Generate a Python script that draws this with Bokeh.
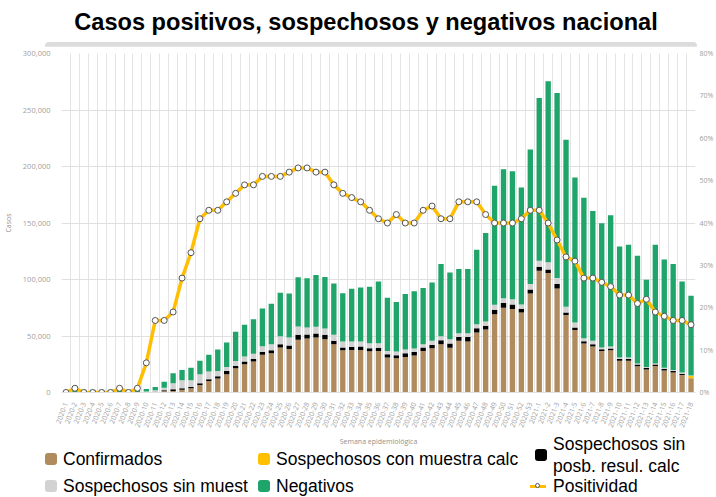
import numpy as np
from bokeh.plotting import figure
from bokeh.models import (ColumnDataSource, Range1d, LinearAxis, FixedTicker,
                          NumeralTickFormatter, Div)
from bokeh.layouts import column
from bokeh.embed import file_html
from bokeh.resources import INLINE

# ---------------- data ----------------
semanas = [f"2020-{i}" for i in range(1, 54)] + [f"2021-{i}" for i in range(1, 19)]

confirmados = [0, 0, 0, 0, 0, 0, 0, 0, 0, 100, 300, 1000, 1300, 2500, 3700, 6650, 10200, 12300,
               16100, 21400, 25000, 27400, 33300, 34700, 39800, 38600, 46600, 47800, 48600, 47200,
               42700, 37400, 37700, 37700, 36500, 36700, 30900, 30300, 31500, 32700, 36800, 39200,
               42700, 39500, 45700, 45100, 53100, 55700, 69300, 74900, 73800, 70800, 87700, 107800,
               105700, 92100, 68500, 55200, 43300, 40700, 36800, 37400, 28200, 28200, 23200, 20300,
               23500, 19400, 17600, 15500, 12600]
sosp_con_muestra_calc = [0] * 70 + [2000]
sosp_sin_posb_resul = [0, 0, 0, 0, 0, 0, 0, 0, 0, 100, 300, 1000, 1500, 1200, 1200, 1450, 1500, 2000,
                       3000, 2100, 2400, 2300, 2600, 2700, 2900, 3000, 4400, 3500, 3600, 3800,
                       3000, 2400, 2700, 3000, 2700, 3000, 3000, 2700, 3200, 3200, 3000, 2900,
                       3600, 3800, 3500, 4100, 3800, 3300, 3900, 4200, 4100, 3300, 3500, 3500,
                       3200, 3900, 2300, 2300, 2100, 2000, 1500, 1500, 1500, 1500, 1500, 1400,
                       1200, 1400, 1500, 1200, 0]
sosp_sin_muestra = [0, 200, 200, 200, 200, 200, 200, 200, 200, 600, 1400, 2300, 5300, 7100, 5900, 8000,
                    6800, 4800, 3500, 4400, 4400, 4700, 5100, 5300, 7100, 7000, 7400, 6200, 5900,
                    5600, 5300, 5300, 4700, 4400, 4400, 3800, 2900, 3200, 3300, 3000, 2900, 3600,
                    3500, 3900, 3300, 3300, 3600, 3800, 4400, 4400, 4700, 3800, 4800, 5300, 6300,
                    5300, 5000, 4400, 2700, 3000, 1500, 1800, 1200, 1200, 900, 900, 900, 1200,
                    900, 900, 400]
negativos = [800, 2300, 2300, 2300, 2300, 2300, 2300, 2300, 2300, 2300, 2900, 5300, 8900, 9200, 11200,
             11900, 14800, 18900, 21600, 25800, 28100, 30500, 33400, 35800, 38400, 39000, 43500,
             43500, 45800, 45600, 45500, 42800, 46700, 47900, 50000, 54800, 47000, 43800, 49100,
             50800, 49700, 51700, 63900, 59100, 56800, 56800, 65900, 78400, 105300, 114100,
             113300, 103500, 119100, 144000, 160200, 163700, 147900, 128400, 124200, 115000,
             110000, 116100, 98200, 99900, 95500, 77200, 105200, 95800, 93700, 80700, 70600]
positividad = [0, 1, 0, 0, 0, 0, 1, 0, 1, 7, 17, 17, 19, 27, 33, 41, 43, 43, 45, 47, 49, 49, 51, 51,
               51, 52, 53, 53, 52, 52, 49, 47, 46, 45, 43, 41, 40, 42, 40, 40, 43, 44, 41, 41, 45,
               45, 45, 42, 40, 40, 40, 41, 43, 43, 40, 36, 32, 31, 27, 27, 26, 25, 23, 23, 21, 22,
               19, 18, 17, 17, 16]

y_ticks = [0, 50000, 100000, 150000, 200000, 250000, 300000]
pct_ticks = [0, 0.1, 0.2, 0.3, 0.4, 0.5, 0.6, 0.7, 0.8]

titulo = "Casos positivos, sospechosos y negativos nacional"
series_names = ["Confirmados", "Sospechosos con muestra calc", "Sospechosos sin<br>posb. resul. calc",
                "Sospechosos sin muest", "Negativos", "Positividad"]
colors = ["#B08B5E", "#FFC000", "#000000", "#D2D2D2", "#1FA469"]
line_color = "#FFBE00"

n = len(semanas)
xs = list(range(n))

src = ColumnDataSource(dict(
    x=xs,
    conf=confirmados, ymc=sosp_con_muestra_calc, blk=sosp_sin_posb_resul,
    gry=sosp_sin_muestra, neg=negativos,
    pos=[v / 100 for v in positividad],
))
stack = ["conf", "ymc", "blk", "gry", "neg"]

W = 716
# ---------------- main chart ----------------
p = figure(width=W, height=402, x_range=Range1d(-0.5, n - 0.5), y_range=Range1d(0, 300000),
           output_backend="svg", toolbar_location=None,
           min_border_left=60, min_border_right=0, min_border_top=7, min_border_bottom=55)
p.outline_line_color = None
p.extra_y_ranges = {"pct": Range1d(0, 0.8)}

rs = p.vbar_stack(stack, x="x", width=0.6, color=colors, line_width=0, source=src)
ln = p.line("x", "pos", source=src, y_range_name="pct", line_color=line_color, line_width=3.5)
pts = p.scatter("x", "pos", source=src, y_range_name="pct", size=6, fill_color="white",
                line_color="#555555", line_width=1)

tick_font = "Open Sans"
tick_color = "#A0A0A0"

xa = p.xaxis[0]
xa.ticker = FixedTicker(ticks=xs)
xa.major_label_overrides = {i: s for i, s in enumerate(semanas)}
xa.major_label_orientation = 1.2
xa.major_label_text_font = tick_font
xa.major_label_text_font_size = "7px"
xa.major_label_text_color = tick_color
xa.major_tick_line_color = None
xa.minor_tick_line_color = None
xa.axis_line_color = "#E0E0E0"
xa.major_label_standoff = 4
xa.axis_label = "Semana epidemiológica"
xa.axis_label_text_font = tick_font
xa.axis_label_text_font_size = "7px"
xa.axis_label_text_font_style = "normal"
xa.axis_label_text_color = "#909090"
xa.axis_label_standoff = 5

ya = p.yaxis[0]
ya.ticker = FixedTicker(ticks=y_ticks)
ya.formatter = NumeralTickFormatter(format="0,0")
ya.major_label_text_font = tick_font
ya.major_label_text_font_size = "7.5px"
ya.major_label_text_color = tick_color
ya.major_tick_line_color = None
ya.minor_tick_line_color = None
ya.axis_line_color = None
ya.major_label_standoff = 5
ya.axis_label = "Casos"
ya.axis_label_text_font = tick_font
ya.axis_label_text_font_size = "7px"
ya.axis_label_text_font_style = "normal"
ya.axis_label_text_color = "#909090"
ya.axis_label_standoff = 7

ra = LinearAxis(y_range_name="pct", ticker=FixedTicker(ticks=pct_ticks),
                formatter=NumeralTickFormatter(format="0%"))
ra.major_label_text_font = tick_font
ra.major_label_text_font_size = "7px"
ra.major_label_text_color = tick_color
ra.major_tick_line_color = None
ra.major_tick_out = 0
ra.minor_tick_line_color = None
ra.minor_tick_out = 0
ra.axis_line_color = None
ra.major_label_standoff = 4
p.add_layout(ra, "right")

p.xgrid.ticker = FixedTicker(ticks=[i - 0.5 for i in range(n + 1)])
p.xgrid.grid_line_color = "#E4E4E4"
p.ygrid.ticker = FixedTicker(ticks=y_ticks)
p.ygrid.grid_line_color = "#E0E0E0"

# ---------------- title + decorative bar ----------------
title_div = Div(
    text=(f'<div style="height:38px;box-sizing:border-box;padding-top:7px;line-height:30px;'
          f'width:{W}px;padding-left:16px;text-align:center;font-family:\'Liberation Sans\';'
          f'font-weight:bold;font-size:23.6px;color:#000;white-space:nowrap">{titulo}</div>'),
    width=W, height=38, margin=(0, 0, 0, 0))
bar_div = Div(text='<div style="margin-left:45px;margin-top:-1px;width:652px;height:8px;'
                   'background:#DCDCDC;border-radius:4px"></div>',
              width=W, height=8, margin=(0, 0, 0, 0))

# ---------------- legend (HTML, below the axis) ----------------
LH = 66
def sw(c):
    return (f'<span style="display:inline-block;width:12px;height:12px;border-radius:3px;'
            f'background:{c};margin-right:6px;flex:none"></span>')
pos_sw = ('<span style="position:relative;display:inline-block;width:16px;height:12px;'
          'margin-right:7px;flex:none"><span style="position:absolute;left:0;top:4.5px;width:16px;'
          f'height:3px;background:{line_color}"></span><span style="position:absolute;left:4.5px;'
          'top:2.5px;width:5px;height:5px;border:1px solid #555;border-radius:50%;'
          'background:#fff"></span></span>')
# (left, top, line-height) of each legend slot inside the strip
slots = [(45, 18, 20, sw(colors[0]), series_names[0]),
         (258, 18, 20, sw(colors[1]), series_names[1]),
         (535, 2, 22, sw(colors[2]), series_names[2]),
         (45, 45, 20, sw(colors[3]), series_names[3]),
         (258, 45, 20, sw(colors[4]), series_names[4]),
         (530, 45, 20, pos_sw, series_names[5])]
items_html = "".join(
    f'<div style="position:absolute;left:{x}px;top:{y}px;display:flex;align-items:center;'
    f'white-space:nowrap">{g}<span style="line-height:{lh}px">{t}</span></div>'
    for x, y, lh, g, t in slots)
legend_div = Div(
    text=(f'<div style="position:relative;width:{W}px;height:{LH}px;font-family:\'Liberation Sans\';'
          f'font-size:17.5px;color:#000">{items_html}</div>'),
    width=W, height=LH, margin=(-17, 0, 0, 0))

layout = column(title_div, bar_div, p, legend_div, spacing=0)
open("out.html", "w").write(file_html(layout, INLINE))
